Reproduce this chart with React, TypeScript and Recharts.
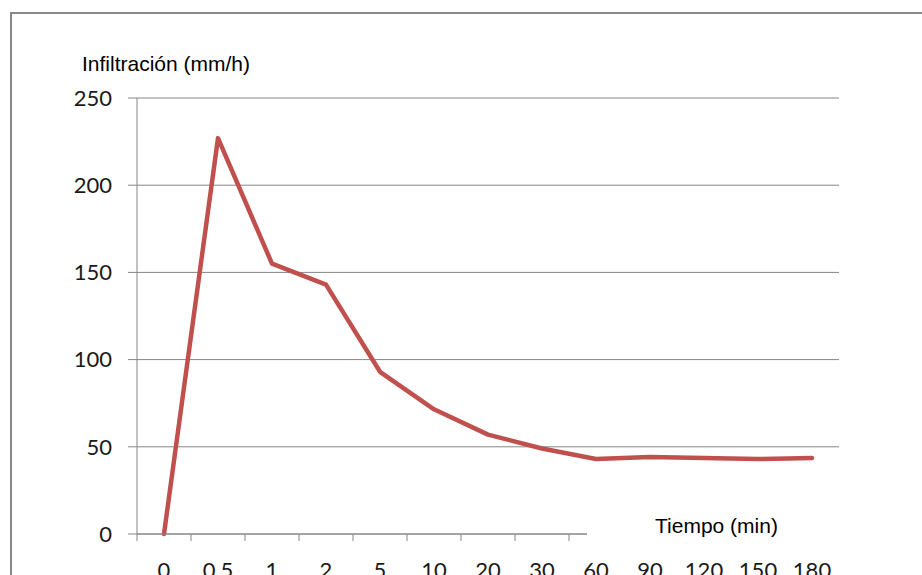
import { LineChart, Line, XAxis, YAxis, CartesianGrid } from "recharts";

const tiempos = ["0", "0.5", "1", "2", "5", "10", "20", "30", "60", "90", "120", "150", "180"];
const infiltracion = [0, 227, 155, 143, 93, 71.5, 57, 49, 43, 44.2, 43.6, 43, 43.6];
const yTicks = [0, 50, 100, 150, 200, 250];

const data = tiempos.map((t, i) => ({ t, v: infiltracion[i] }));

const AXIS_COLOR = "#868686";
const LINE_COLOR = "#C0504D";
const TICK_FONT = "Lato, 'Open Sans', sans-serif";
const LABEL_FONT = "'Liberation Sans', Arial, sans-serif";

// Excel-style category ticks: mark sits on the left edge of each band, label centered
function BetweenTick(props: any) {
  const { x, y, payload } = props;
  const half = payload?.offset ?? 27;
  return (
    <g>
      <line x1={x - half} y1={y} x2={x - half} y2={y + 7} stroke={AXIS_COLOR} strokeWidth={1} />
      <text
        x={x}
        y={y + 28}
        dy="0.71em"
        textAnchor="middle"
        fill="#1a1a1a"
        fontSize={22}
        fontFamily={TICK_FONT}
      >
        {payload.value}
      </text>
    </g>
  );
}

export default function App() {
  return (
    <div
      style={{
        position: "absolute",
        left: 0,
        top: 0,
        width: 922,
        height: 575,
        overflow: "hidden",
        background: "#fff",
      }}
    >
      <div
        style={{
          position: "absolute",
          left: 10,
          top: 12,
          width: 1000,
          height: 700,
          border: "2px solid #888",
          boxSizing: "border-box",
        }}
      />
      <div style={{ position: "absolute", left: 0, top: 0 }}>
        <LineChart
          width={922}
          height={620}
          data={data}
          margin={{ top: 98, right: 83, left: 0, bottom: 26 }}
        >
          <CartesianGrid vertical={false} stroke={AXIS_COLOR} strokeWidth={1} />
          <XAxis
            dataKey="t"
            scale="band"
            height={60}
            interval={0}
            axisLine={{ stroke: AXIS_COLOR }}
            tickLine={false}
            tickSize={0}
            tickMargin={0}
            tick={<BetweenTick />}
          />
          <YAxis
            width={137}
            domain={[0, 250]}
            ticks={yTicks}
            interval={0}
            axisLine={{ stroke: AXIS_COLOR }}
            tickLine={{ stroke: AXIS_COLOR }}
            tickSize={9}
            tickMargin={16}
            tick={{ fill: "#1a1a1a", fontSize: 22, fontFamily: TICK_FONT }}
          />
          <Line
            type="linear"
            dataKey="v"
            stroke={LINE_COLOR}
            strokeWidth={4.5}
            strokeLinejoin="round"
            strokeLinecap="round"
            dot={false}
            isAnimationActive={false}
          />
        </LineChart>
      </div>
      <div
        style={{
          position: "absolute",
          left: 82,
          top: 53,
          fontFamily: LABEL_FONT,
          fontSize: 21,
          lineHeight: "21px",
          color: "#000",
          whiteSpace: "nowrap",
        }}
      >
        Infiltración (mm/h)
      </div>
      <div
        style={{
          position: "absolute",
          left: 587,
          top: 495,
          width: 340,
          height: 55,
          background: "#fff",
        }}
      />
      <div
        style={{
          position: "absolute",
          left: 655,
          top: 515,
          fontFamily: LABEL_FONT,
          fontSize: 21,
          lineHeight: "21px",
          color: "#000",
          whiteSpace: "nowrap",
        }}
      >
        Tiempo (min)
      </div>
    </div>
  );
}
